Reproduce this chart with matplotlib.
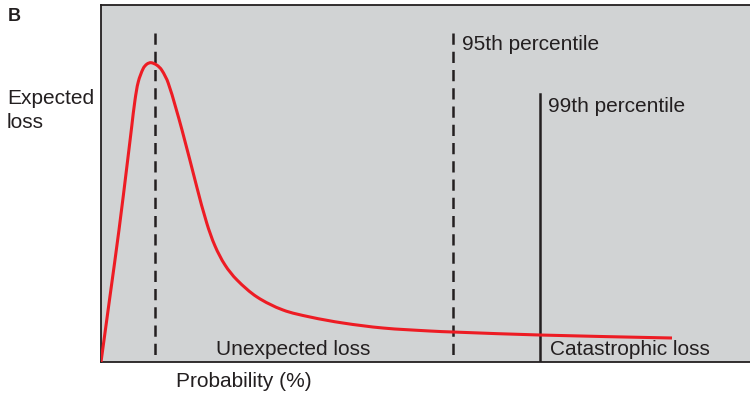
import matplotlib
matplotlib.use("Agg")
import matplotlib.pyplot as plt
import numpy as np
from matplotlib.path import Path
from matplotlib.patches import PathPatch

# Loss distribution curve (x: probability axis, y: loss density) (0-100 scale)
curve_x = [0, 1.39, 2.77, 4.11, 4.73, 5.24, 5.75, 6.52, 7.09, 7.70, 8.58, 9.35, 10.37,
           12.48, 14.75, 16.29, 17.57, 19.11, 20.96, 24.04, 28.04, 32.20, 37.29,
           43.45, 50.69, 54.24, 67.64, 87.98]
curve_y = [0, 18.49, 36.97, 56.58, 65.91, 73.39, 78.52, 82.27, 83.47, 83.84, 83.19, 81.79,
           78.07, 65.00, 49.10, 38.94, 32.49, 27.17, 22.97, 18.21, 14.57, 12.61,
           10.92, 9.52, 8.68, 8.40, 7.56, 6.72]

# Reference lines
expected_x, expected_top = 8.3, 92.2
p95_x, p95_top = 54.2, 92.2
p99_x, p99_top = 67.6, 75.1

labels = {
    "p95": "95th percentile",
    "p99": "99th percentile",
    "unexpected": "Unexpected loss",
    "catastrophic": "Catastrophic loss",
    "xlabel": "Probability (%)",
    "ylabel1": "Expected",
    "ylabel2": "loss",
    "panel": "B",
}

BG = "#d1d3d4"
RED = "#ed1c24"
DARK = "#231f20"
FONT = "Liberation Sans"
FS = 15

fig = plt.figure(figsize=(7.5, 3.95), dpi=100)
ax = fig.add_axes([101 / 750, 33 / 395, 649 / 750, 357 / 395])
ax.set_facecolor(BG)
ax.set_xlim(0, 100)
ax.set_ylim(0, 100)
ax.set_xticks([])
ax.set_yticks([])
for s in ["left", "top", "bottom"]:
    ax.spines[s].set_color(DARK)
    ax.spines[s].set_linewidth(1.3)
ax.spines["right"].set_visible(False)


def smooth_path(xs, ys, sx=6.49, sy=3.57):
    """Cubic Bezier path through the given points (chord-length tangents)."""
    P = np.column_stack([np.asarray(xs) * sx, np.asarray(ys) * sy])
    n = len(P)
    d = np.linalg.norm(np.diff(P, axis=0), axis=1)
    T = np.zeros_like(P)
    T[0] = (P[1] - P[0]) / d[0]
    T[-1] = (P[-1] - P[-2]) / d[-1]
    for i in range(1, n - 1):
        T[i] = (P[i + 1] - P[i - 1]) / (d[i - 1] + d[i])
    verts = [P[0]]
    codes = [Path.MOVETO]
    for i in range(n - 1):
        c1 = P[i] + T[i] * d[i] / 3
        c2 = P[i + 1] - T[i + 1] * d[i] / 3
        verts += [c1, c2, P[i + 1]]
        codes += [Path.CURVE4] * 3
    V = np.array(verts)
    V[:, 0] /= sx
    V[:, 1] /= sy
    return Path(V, codes)


ax.add_patch(PathPatch(smooth_path(curve_x, curve_y), facecolor="none", edgecolor=RED,
                       lw=2.2, capstyle="butt", zorder=3))

ax.plot([expected_x, expected_x], [expected_top, 0], color=DARK, lw=1.8,
        dashes=(4.5, 2.8), zorder=2)
ax.plot([p95_x, p95_x], [p95_top, 0], color=DARK, lw=1.8,
        dashes=(4.5, 2.8), zorder=2)
ax.plot([p99_x, p99_x], [p99_top, 0], color=DARK, lw=1.8, zorder=2)

ax.text(55.6, 87.4, labels["p95"], fontsize=FS, family=FONT, color=DARK, va="baseline")
ax.text(68.9, 70.0, labels["p99"], fontsize=FS, family=FONT, color=DARK, va="baseline")
ax.text(17.7, 2.0, labels["unexpected"], fontsize=FS, family=FONT, color=DARK, va="baseline")
ax.text(69.2, 2.0, labels["catastrophic"], fontsize=FS, family=FONT, color=DARK, va="baseline")

fig.text(176 / 750, 1 - 387 / 395, labels["xlabel"], fontsize=FS, family=FONT, color=DARK, va="baseline")
fig.text(7 / 750, 1 - 104 / 395, labels["ylabel1"], fontsize=FS, family=FONT, color=DARK, va="baseline")
fig.text(7 / 750, 1 - 128 / 395, labels["ylabel2"], fontsize=FS, family=FONT, color=DARK, va="baseline")
fig.text(8 / 750, 1 - 21 / 395, labels["panel"], fontsize=13, family=FONT, weight="bold", color=DARK, va="baseline")

fig.savefig("out.png", dpi=100)
